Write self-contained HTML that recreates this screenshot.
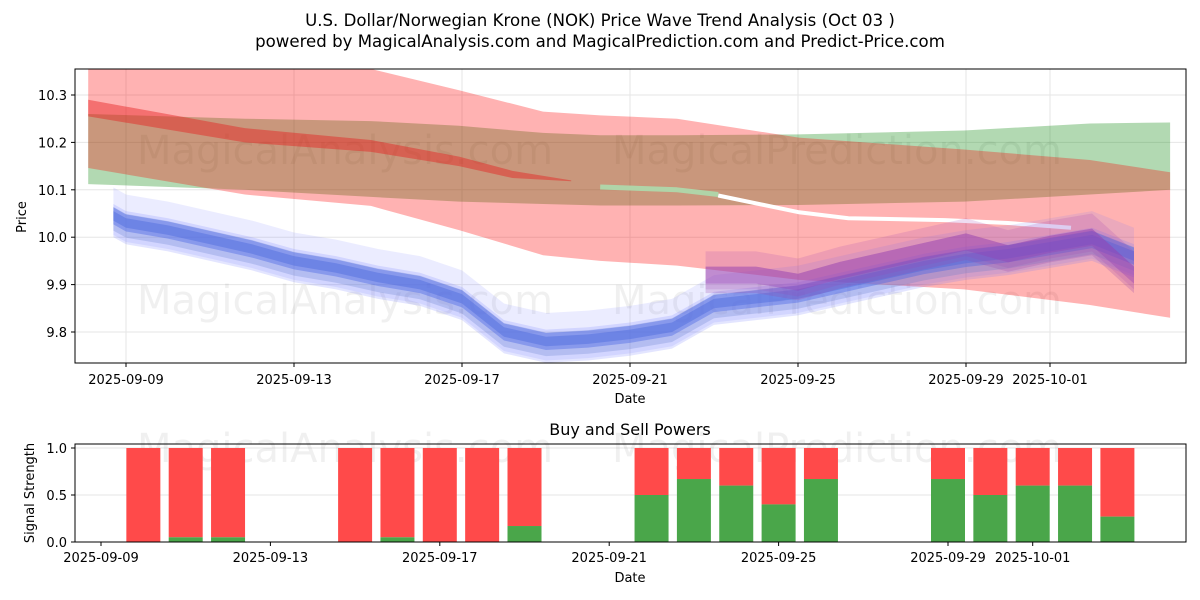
<!DOCTYPE html>
<html><head><meta charset="utf-8"><style>
html,body{margin:0;padding:0;background:#fff;}
svg{display:block;font-family:"DejaVu Sans","Liberation Sans",sans-serif;}
</style></head><body>
<svg id="c" width="1200" height="600" viewBox="0 0 1200 600" xmlns="http://www.w3.org/2000/svg">
<text x="600" y="26" text-anchor="middle" font-size="16.6">U.S. Dollar/Norwegian Krone (NOK) Price Wave Trend Analysis (Oct 03 )</text>
<text x="600" y="47" text-anchor="middle" font-size="16.6">powered by MagicalAnalysis.com and MagicalPrediction.com and Predict-Price.com</text>
<defs><clipPath id="cp1"><rect x="75" y="69" width="1111" height="294"/></clipPath><clipPath id="cp2"><rect x="75" y="444" width="1111" height="98"/></clipPath></defs>
<g id="topg"></g>
<g id="botg"></g>
</svg>
<script>
// ---- price chart data (days from 2025-09-09) ----
const bandDays=[-0.9,2.83,5.83,7.93,9.93,11.29,13.12,16.02,19.95,22.95,24.86];
const r1Top=[10.37,10.37,10.355,10.31,10.265,10.257,10.25,10.21,10.185,10.163,10.137];
const r1Bot=[10.146,10.09,10.066,10.015,9.962,9.95,9.94,9.91,9.89,9.857,9.83];
const gTop=[10.26,10.25,10.245,10.235,10.22,10.215,10.215,10.217,10.225,10.24,10.242];
const gBot=[10.112,10.10,10.085,10.075,10.07,10.067,10.067,10.068,10.075,10.09,10.1];
const stripDays=[-0.9,2.83,5.83,7.93,9.2,10.6];
const stripTop=[10.29,10.23,10.205,10.17,10.14,10.12];
const stripBot=[10.255,10.2,10.18,10.15,10.125,10.118];
const greenLineDays=[11.29,13.12,14.1];
const greenLineVals=[10.106,10.10,10.09];
const whiteLineDays=[14.1,16.0,17.2,19.5,21.0,22.5];
const whiteLineVals=[10.088,10.053,10.04,10.036,10.03,10.02];
const blueDays=[-0.3,0,1,2,3,4,5,6,7,8,9,10,11,12,13,14,15,16,17,18,19,20,21,22,23,24];
const blueVals=[10.045,10.03,10.015,9.995,9.975,9.95,9.935,9.915,9.90,9.87,9.80,9.78,9.785,9.795,9.81,9.86,9.87,9.88,9.90,9.92,9.94,9.955,9.965,9.98,9.995,9.96];
const purpDays=[13.8,15,16,17,18,19,20,21,22,23,24];
const purpVals=[9.92,9.92,9.905,9.93,9.95,9.97,9.99,9.965,9.985,10.0,9.92];
const priceTicks=[9.8,9.9,10.0,10.1,10.2,10.3];
const dateTickDays=[0,4,8,12,16,20,22];
const dateTickLabels=["2025-09-09","2025-09-13","2025-09-17","2025-09-21","2025-09-25","2025-09-29","2025-10-01"];
// ---- power chart data ----
const barDays=[1,2,3,6,7,8,9,10,13,14,15,16,17,20,21,22,23,24];
const buyVals=[0,0.05,0.05,0,0.05,0,0,0.17,0.5,0.67,0.6,0.4,0.67,0.67,0.5,0.6,0.6,0.27];
const powerTicks=[0,0.5,1.0];
const powerTickLabels=["0.0","0.5","1.0"];

const NS="http://www.w3.org/2000/svg";
function mk(p,t,a){const e=document.createElementNS(NS,t);for(const k in a)e.setAttribute(k,a[k]);p.appendChild(e);return e;}
const X1=d=>126+42*d, Y1=v=>332-(v-9.8)*474;
const X2=d=>101+42.35*d, Y2=v=>542-v*94;
const topG=document.getElementById('topg'), botG=document.getElementById('botg');

priceTicks.forEach(v=>{const l=mk(topG,'line',{x1:75,x2:1186,y1:Y1(v),y2:Y1(v),stroke:'#e6e6e6'});

});
dateTickDays.forEach(d=>{const l=mk(topG,'line',{x1:X1(d),x2:X1(d),y1:69,y2:363,stroke:'#e6e6e6'});

});
const wm=[[345,150,'MagicalAnalysis.com'],[837,150,'MagicalPrediction.com'],[345,300,'MagicalAnalysis.com'],[837,300,'MagicalPrediction.com']];
wm.forEach(w=>{const t=mk(topG,'text',{x:w[0],y:w[1]+14,'text-anchor':'middle','font-size':40,fill:'rgba(0,0,0,0.06)'});t.textContent=w[2];

});
const pg=mk(topG,'g',{'clip-path':'url(#cp1)'});
function band(days,up,lo,fill,name){let pts=days.map((d,i)=>X1(d)+','+Y1(up[i]));
for(let i=days.length-1;i>=0;i--)pts.push(X1(days[i])+','+Y1(lo[i]));
const p=mk(pg,'polygon',{points:pts.join(' '),fill:fill});

}
function line(days,vals,color,w,name){const pts=days.map((d,i)=>X1(d)+','+Y1(vals[i]));
const l=mk(pg,'polyline',{points:pts.join(' '),fill:'none',stroke:color,'stroke-width':w,'stroke-linejoin':'round'});

}
band(bandDays,gTop,gBot,'rgba(0,128,0,0.3)','green-band');
band(bandDays,r1Top,r1Bot,'rgba(255,0,0,0.3)','red-band');
band(stripDays,stripTop,stripBot,'rgba(230,30,30,0.45)','red-trend-strip');
line(greenLineDays,greenLineVals,'#b0d4a8',5,'green-trend-line');
line(whiteLineDays,whiteLineVals,'#ffffff',4,'white-trend-line');
function lineBand(days,vals,w,fill,name,dy){const up=vals.map(v=>v+w+(dy||0)),lo=vals.map(v=>v-w+(dy||0));band(days,up,lo,fill,name);}
[[0.05,'rgba(100,110,255,0.13)',0.01],[0.035,'rgba(100,110,255,0.18)',-0.01],[0.025,'rgba(90,120,200,0.25)',-0.006],[0.018,'rgba(70,100,230,0.4)',0],[0.01,'rgba(70,100,220,0.4)',0]].forEach(l=>lineBand(blueDays,blueVals,l[0],l[1],'blue-wave',l[2]));
[[0.04,'rgba(160,60,180,0.18)',0.01],[0.028,'rgba(150,70,170,0.25)',-0.01],[0.018,'rgba(150,60,180,0.35)',0]].forEach(l=>lineBand(purpDays,purpVals,l[0],l[1],'purple-wave',l[2]));

const ax=mk(topG,'rect',{x:75,y:69,width:1111,height:294,fill:'none',stroke:'#000','stroke-width':1});


priceTicks.forEach(v=>{mk(topG,'line',{x1:71,x2:75,y1:Y1(v),y2:Y1(v),stroke:'#000'});
const t=mk(topG,'text',{x:67,y:Y1(v)+5,'text-anchor':'end','font-size':13});t.textContent=v.toFixed(1);

});
dateTickDays.forEach((d,i)=>{mk(topG,'line',{x1:X1(d),x2:X1(d),y1:363,y2:367,stroke:'#000'});
const t=mk(topG,'text',{x:X1(d),y:384,'text-anchor':'middle','font-size':13});t.textContent=dateTickLabels[i];

});
let t=mk(topG,'text',{x:630,y:403,'text-anchor':'middle','font-size':13});t.textContent='Date';


t=mk(topG,'text',{x:0,y:0,'text-anchor':'middle','font-size':13,transform:'translate(26,217) rotate(-90)'});t.textContent='Price';



powerTicks.forEach((v,i)=>{mk(botG,'line',{x1:75,x2:1186,y1:Y2(v),y2:Y2(v),stroke:'#e6e6e6'});
mk(botG,'line',{x1:71,x2:75,y1:Y2(v),y2:Y2(v),stroke:'#000'});
const tt=mk(botG,'text',{x:67,y:Y2(v)+5,'text-anchor':'end','font-size':13});tt.textContent=powerTickLabels[i];

});
[[345,'MagicalAnalysis.com'],[837,'MagicalPrediction.com']].forEach(w=>{const tt=mk(botG,'text',{x:w[0],y:462,'text-anchor':'middle','font-size':40,fill:'rgba(0,0,0,0.06)'});tt.textContent=w[1];

});
const bg=mk(botG,'g',{'clip-path':'url(#cp2)'});
barDays.forEach((d,i)=>{const x=X2(d)-17,b=buyVals[i];
const r=mk(bg,'rect',{x:x,y:Y2(1),width:34,height:Y2(b)-Y2(1),fill:'#ff4a4a'});


const g=mk(bg,'rect',{x:x,y:Y2(b),width:34,height:Y2(0)-Y2(b),fill:'#4aa64a'});

});
const ax2=mk(botG,'rect',{x:75,y:444,width:1111,height:98,fill:'none',stroke:'#000'});


dateTickDays.forEach((d,i)=>{mk(botG,'line',{x1:X2(d),x2:X2(d),y1:542,y2:546,stroke:'#000'});
const tt=mk(botG,'text',{x:X2(d),y:562,'text-anchor':'middle','font-size':13});tt.textContent=dateTickLabels[i];

});
t=mk(botG,'text',{x:630,y:582,'text-anchor':'middle','font-size':13});t.textContent='Date';


t=mk(botG,'text',{x:630,y:435,'text-anchor':'middle','font-size':16});t.textContent='Buy and Sell Powers';


t=mk(botG,'text',{x:0,y:0,'text-anchor':'middle','font-size':13,transform:'translate(34,493) rotate(-90)'});t.textContent='Signal Strength';


</script>
</body></html>
